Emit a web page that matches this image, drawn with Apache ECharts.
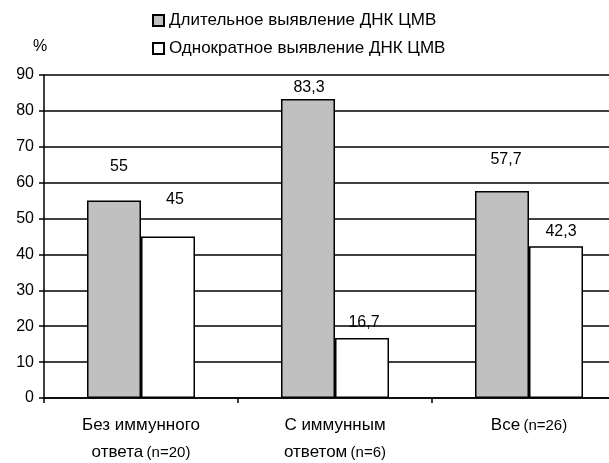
<!DOCTYPE html>
<html><head><meta charset="utf-8">
<script src="https://cdn.jsdelivr.net/npm/echarts@6/dist/echarts.min.js"></script>
<style>html,body{margin:0;padding:0;background:#fff;overflow:hidden}#c{width:626px;height:463px}</style>
</head><body><div id="c"></div>
<script>
const categories = [['Без иммунного', 'ответа', '(n=20)'], ['С иммунным', 'ответом', '(n=6)'], ['Все', '', '(n=26)']];
const seriesNames = ['Длительное выявление ДНК ЦМВ', 'Однократное выявление ДНК ЦМВ'];
const longValues = [55, 83.3, 57.7];
const onceValues = [45, 16.7, 42.3];
const yTicks = [0, 10, 20, 30, 40, 50, 60, 70, 80, 90];
const labelOffsetsLong = [[5, -21], [1, 2], [4, -18]];
const labelOffsetsOnce = [[7, -24], [2, -2], [5, -2]];

const FONT = 'Liberation Sans, Arial, sans-serif';
const fmt = p => String(p.value).replace('.', ',');
function mk(vals, offs) {
  return vals.map((v, i) => ({ value: v, label: { offset: offs[i] } }));
}
const chart = echarts.init(document.getElementById('c'), null, { renderer: 'canvas' });
chart.setOption({
  animation: false,
  backgroundColor: '#fff',
  textStyle: { fontFamily: FONT },
  legend: {
    orient: 'vertical', left: 147, top: 6, itemWidth: 11, itemHeight: 11, itemGap: 9,
    icon: 'rect',
    textStyle: { fontSize: 17, color: '#000', lineHeight: 19, fontFamily: FONT },
    data: seriesNames
  },
  grid: { left: 44, right: 0, top: 75, bottom: 65, containLabel: false },
  xAxis: {
    type: 'category',
    data: categories.map(c => c.join('|')),
    axisLine: { lineStyle: { color: '#000', width: 1.5 } },
    axisTick: { show: true, length: 5, lineStyle: { color: '#000', width: 1.5 } },
    axisLabel: {
      interval: 0, margin: 14, color: '#000',
      formatter: v => {
        const [a, b, n] = v.split('|');
        return b ? `{a|${a}}\n{a|${b}} {b|${n}}` : `{a|${a}} {b|${n}}`;
      },
      rich: {
        a: { fontSize: 17, lineHeight: 27, color: '#000', fontFamily: FONT },
        b: { fontSize: 15, lineHeight: 27, color: '#000', fontFamily: FONT }
      }
    }
  },
  yAxis: {
    type: 'value', min: yTicks[0], max: yTicks[yTicks.length - 1], interval: 10,
    name: '%', nameLocation: 'end', nameGap: 20,
    nameTextStyle: { fontSize: 16, color: '#000', align: 'center', padding: [0, 8, 0, 0] },
    axisLine: { show: true, lineStyle: { color: '#000', width: 1.5 } },
    axisTick: { show: true, length: 5, lineStyle: { color: '#000', width: 1.5 } },
    axisLabel: { fontSize: 16, color: '#000', margin: 10 },
    splitLine: { lineStyle: { color: '#000', width: 1.5 } }
  },
  series: [
    {
      name: seriesNames[0], type: 'bar', barWidth: 54, barGap: '0%',
      itemStyle: { color: '#c0c0c0', borderColor: '#000', borderWidth: 1.5 },
      label: { show: true, position: 'top', fontSize: 16, color: '#000', formatter: fmt },
      data: mk(longValues, labelOffsetsLong)
    },
    {
      name: seriesNames[1], type: 'bar', barWidth: 54, barGap: '0%',
      itemStyle: { color: '#ffffff', borderColor: '#000', borderWidth: 1.5 },
      label: { show: true, position: 'top', fontSize: 16, color: '#000', formatter: fmt },
      data: mk(onceValues, labelOffsetsOnce)
    }
  ]
});
</script></body></html>
